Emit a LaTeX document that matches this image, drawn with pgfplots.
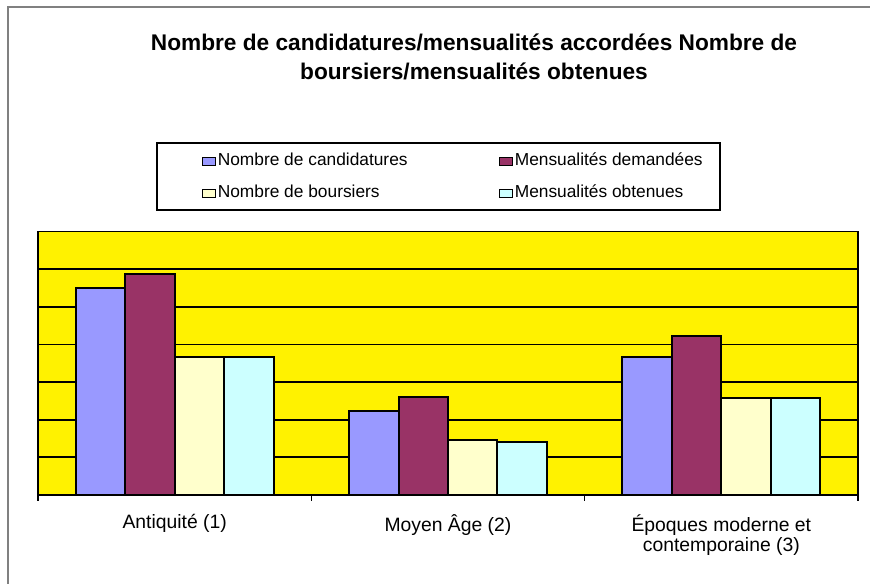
\documentclass[border=0pt]{standalone}
\usepackage{pgfplots}
\pgfplotsset{compat=1.18}
\usepackage{fontspec}
\setmainfont{Liberation Sans}
\definecolor{barblue}{HTML}{9999FF}
\definecolor{barplum}{HTML}{993366}
\definecolor{barcream}{HTML}{FFFFCC}
\definecolor{barcyan}{HTML}{CCFFFF}
\definecolor{framegray}{HTML}{808080}

\begin{document}
\begin{tikzpicture}
% page = 870 x 584 px, 1px = 0.75pt, y counted from the bottom
\begin{scope}[x=0.75pt, y=0.75pt]
  \path[use as bounding box] (0,0) rectangle (870,584);
  \draw[framegray, line width=1.1pt] (8,0) -- (8,577) -- (870,577);
  \node[font=\bfseries\fontsize{17}{20}\selectfont, anchor=base] at (474,533)
    {Nombre de candidatures/mensualités accordées Nombre de};
  \node[font=\bfseries\fontsize{17}{20}\selectfont, anchor=base] at (474,504)
    {boursiers/mensualités obtenues};
  \draw[black, line width=1.5pt] (157,441) rectangle (720,374);
\end{scope}

\begin{axis}[
  at={(28.5pt,66.75pt)}, anchor=south west,
  scale only axis, width=615pt, height=197.6pt,
  ybar=0pt, bar width=37.1pt,
  xmin=-0.5, xmax=2.5, ymin=0, ymax=7,
  xtick={-0.5,0.5,1.5,2.5}, xticklabels={},
  tick align=outside, major tick length=4.5pt,
  tick pos=left,
  extra x ticks={0,1,2},
  extra x tick labels={Antiquité (1), Moyen Âge (2), {Époques moderne et\\contemporaine (3)}},
  extra x tick style={major tick length=0pt},
  xticklabel style={align=center, font=\fontsize{14.5}{15.5}\selectfont, yshift=-11pt},
  x tick style={black, line width=1.1pt},
  ytick={0,1,...,7}, yticklabels={},
  ytick style={draw=none},
  ymajorgrids, grid style={black, line width=1.3pt},
  axis line style={black, line width=1.4pt},
  axis background/.style={fill=yellow},
  legend columns=2, legend cell align=left,
  legend image code/.code={\draw[#1, line width=0.9pt] (0pt,-3.2pt) rectangle (9.5pt,3.2pt);},
  legend style={at={(0.1996,1.205)}, anchor=west, draw=none, fill=none,
    inner sep=0pt, font=\fontsize{13}{15}\selectfont,
    /tikz/every even column/.append style={column sep=67pt},
    nodes={text height=9.5pt, text depth=3pt, inner xsep=1.5pt},
    row sep=7.5pt},
]
\addplot[fill=barblue, draw=black, line width=1.5pt]
  coordinates {(0,5.49) (1,2.24) (2,3.66)};
\addplot[fill=barplum, draw=black, line width=1.5pt]
  coordinates {(0,5.86) (1,2.60) (2,4.23)};
\addplot[fill=barcream, draw=black, line width=1.5pt]
  coordinates {(0,3.66) (1,1.46) (2,2.59)};
\addplot[fill=barcyan, draw=black, line width=1.5pt]
  coordinates {(0,3.66) (1,1.40) (2,2.59)};
\legend{Nombre de candidatures, Mensualités demandées, Nombre de boursiers, Mensualités obtenues}
\end{axis}
\end{tikzpicture}
\end{document}
